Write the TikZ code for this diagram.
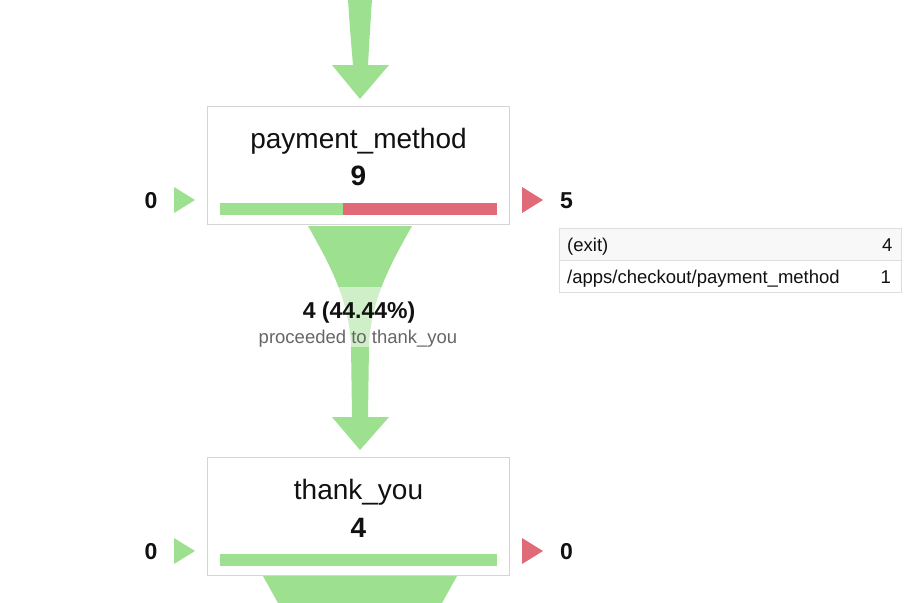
\documentclass[tikz,border=0pt]{standalone}
\usepackage{fontspec}
\setmainfont{Liberation Sans}
\definecolor{fgreen}{HTML}{9DE08F}
\definecolor{fred}{HTML}{E06A78}
\definecolor{boxgray}{HTML}{D4D4D4}
\definecolor{tblgray}{HTML}{DDDDDD}
\definecolor{rowbg}{HTML}{F8F8F8}
\definecolor{subgray}{HTML}{666666}
\definecolor{txt}{HTML}{111111}
\begin{document}
\begin{tikzpicture}[x=1pt,y=-1pt,
  stepbox/.style={draw=boxgray, line width=1.5pt, fill=white, inner sep=0, minimum width=302, minimum height=118},
  title/.style={anchor=base, font=\fontsize{28}{30}\selectfont, inner sep=0, text=txt},
  count/.style={anchor=base, font=\fontsize{28}{30}\selectfont\bfseries, inner sep=0, text=txt},
  side/.style={anchor=base, font=\fontsize{23}{25}\selectfont\bfseries, inner sep=0, text=txt},
  cell/.style={draw=tblgray, line width=1pt, inner sep=0, minimum width=342, minimum height=32, anchor=north west},
  celltxt/.style={font=\fontsize{18.5}{20}\selectfont, inner sep=0, text=txt},
  pct/.style={anchor=base, font=\fontsize{23}{25}\selectfont\bfseries, inner sep=0, text=txt},
  sub/.style={anchor=base, font=\fontsize{18.5}{20}\selectfont, inner sep=0, text=subgray}]
\useasboundingbox[fill=white] (0,0) rectangle (909,602);

% top incoming flow
\fill[fgreen] (348,-1) .. controls (350,30) .. (353,65) -- (332,65) -- (360,99) -- (389,65) -- (368,65) .. controls (370,30) .. (372,-1) -- cycle;

% middle flow
\fill[fgreen] (308,226) .. controls (330,265) and (349,300) .. (351,345) -- (352,417) -- (332,417) -- (360,450) -- (389,417) -- (368,417) -- (369,345) .. controls (371,300) and (390,265) .. (412,226) -- cycle;
\fill[white, opacity=0.5] (250,287) rectangle (470,347);

% bottom outgoing flow
\fill[fgreen] (263,576) .. controls (270,590) .. (278,603) -- (442,603) .. controls (450,590) .. (457,576) -- cycle;

% payment_method step
\node[stepbox] (pm) at (358.5,165.5) {};
\node[title] (pmt) at (358.5,148) {payment\_method};
\node[count] (pmc) at (358.5,185) {9};
\fill[fgreen] (220,203) rectangle (343,215);
\fill[fred] (343,203) rectangle (497,215);
\node[side] (pmin) at (151,208) {0};
\fill[fgreen] (174,187) -- (174,213) -- (195,200) -- cycle;
\fill[fred] (522,187) -- (522,213) -- (543,200) -- cycle;
\node[side] (pmout) at (566.5,208) {5};

% exit table
\node[cell, fill=rowbg] (r1) at (559,228) {};
\node[cell] (r2) at (559,260) {};
\node[celltxt, anchor=base west] at (567,251) {(exit)};
\node[celltxt, anchor=base east] at (892.5,251) {4};
\node[celltxt, anchor=base west] at (567,283) {/apps/checkout/payment\_method};
\node[celltxt, anchor=base east] at (891,283) {1};

% flow label
\node[pct] (lab) at (359,318) {4 (44.44\%)};
\node[sub] (labs) at (358,343) {proceeded to thank\_you};

% thank_you step
\node[stepbox] (ty) at (358.5,516.5) {};
\node[title] (tyt) at (358.5,499) {thank\_you};
\node[count] (tyc) at (358.5,537) {4};
\fill[fgreen] (220,554) rectangle (497,566);
\node[side] (tyin) at (151,559) {0};
\fill[fgreen] (174,538) -- (174,564) -- (195,551) -- cycle;
\fill[fred] (522,538) -- (522,564) -- (543,551) -- cycle;
\node[side] (tyout) at (566.5,559) {0};
\end{tikzpicture}
\end{document}
